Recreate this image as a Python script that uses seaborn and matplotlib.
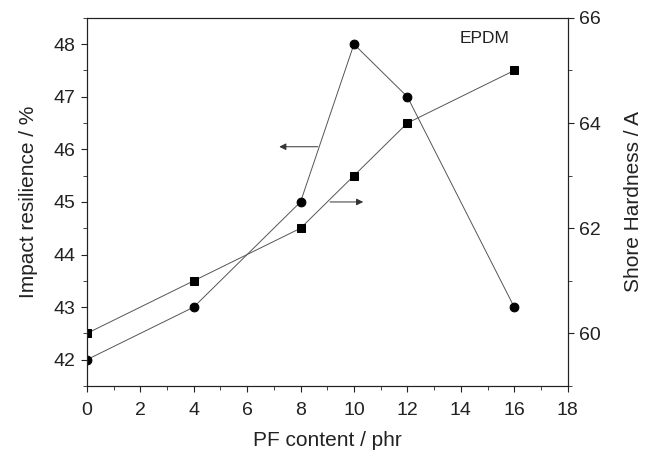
import numpy as np
import pandas as pd
import seaborn as sns
import matplotlib.pyplot as plt
from matplotlib.ticker import MultipleLocator

pf_content = [0, 4, 8, 10, 12, 16]
resilience = [42, 43, 45, 48, 47, 43]
hardness = [60, 61, 62, 63, 64, 65]

sns.set_style("ticks")
plt.rcParams['font.family'] = ['Liberation Sans', 'DejaVu Sans']

df = pd.DataFrame({'pf': pf_content, 'res': resilience, 'hard': hardness})

fig = plt.figure(figsize=(6.48, 4.59), dpi=100)
ax = fig.add_axes([0.134, 0.159, 0.742, 0.802])
ax2 = ax.twinx()

sns.lineplot(data=df, x='pf', y='res', ax=ax, color='#555555', lw=0.7,
             marker='o', markersize=6.3, markerfacecolor='black',
             markeredgecolor='black')
sns.lineplot(data=df, x='pf', y='hard', ax=ax2, color='#555555', lw=0.7,
             marker='s', markersize=6, markerfacecolor='black',
             markeredgecolor='black')

ax.set_xlim(0, 18)
ax.set_ylim(41.5, 48.5)
ax2.set_ylim(59, 66)

ax.xaxis.set_major_locator(MultipleLocator(2))
ax.xaxis.set_minor_locator(MultipleLocator(1))
ax.yaxis.set_major_locator(MultipleLocator(1))
ax.yaxis.set_minor_locator(MultipleLocator(0.5))
ax2.yaxis.set_major_locator(MultipleLocator(2))
ax2.yaxis.set_minor_locator(MultipleLocator(1))

for a in (ax, ax2):
    a.tick_params(which='major', length=4.5, width=0.8, labelsize=14, pad=4,
                  color='#222222', labelcolor='#222222')
    a.tick_params(which='minor', length=2.8, width=0.6, color='#222222')
    for s in a.spines.values():
        s.set_linewidth(0.8)
        s.set_color('#222222')
ax.tick_params(axis='x', which='major', pad=7)

ax.set_xlabel('PF content / phr', fontsize=15, color='#222222', labelpad=9)
ax.set_ylabel('Impact resilience / %', fontsize=15, color='#222222', labelpad=11)
ax2.set_ylabel('Shore Hardness / A', fontsize=15, color='#222222', labelpad=16)

ax.annotate('', xy=(7.1, 46.05), xytext=(8.75, 46.05),
            arrowprops=dict(arrowstyle='-|>', color='#333333', lw=0.7,
                            mutation_scale=10))
ax.annotate('', xy=(10.45, 45.0), xytext=(9.0, 45.0),
            arrowprops=dict(arrowstyle='-|>', color='#333333', lw=0.7,
                            mutation_scale=10))

ax.text(14.9, 48.1, 'EPDM', ha='center', va='center', fontsize=12.5, color='#222222')

fig.savefig('out.png', dpi=100)
